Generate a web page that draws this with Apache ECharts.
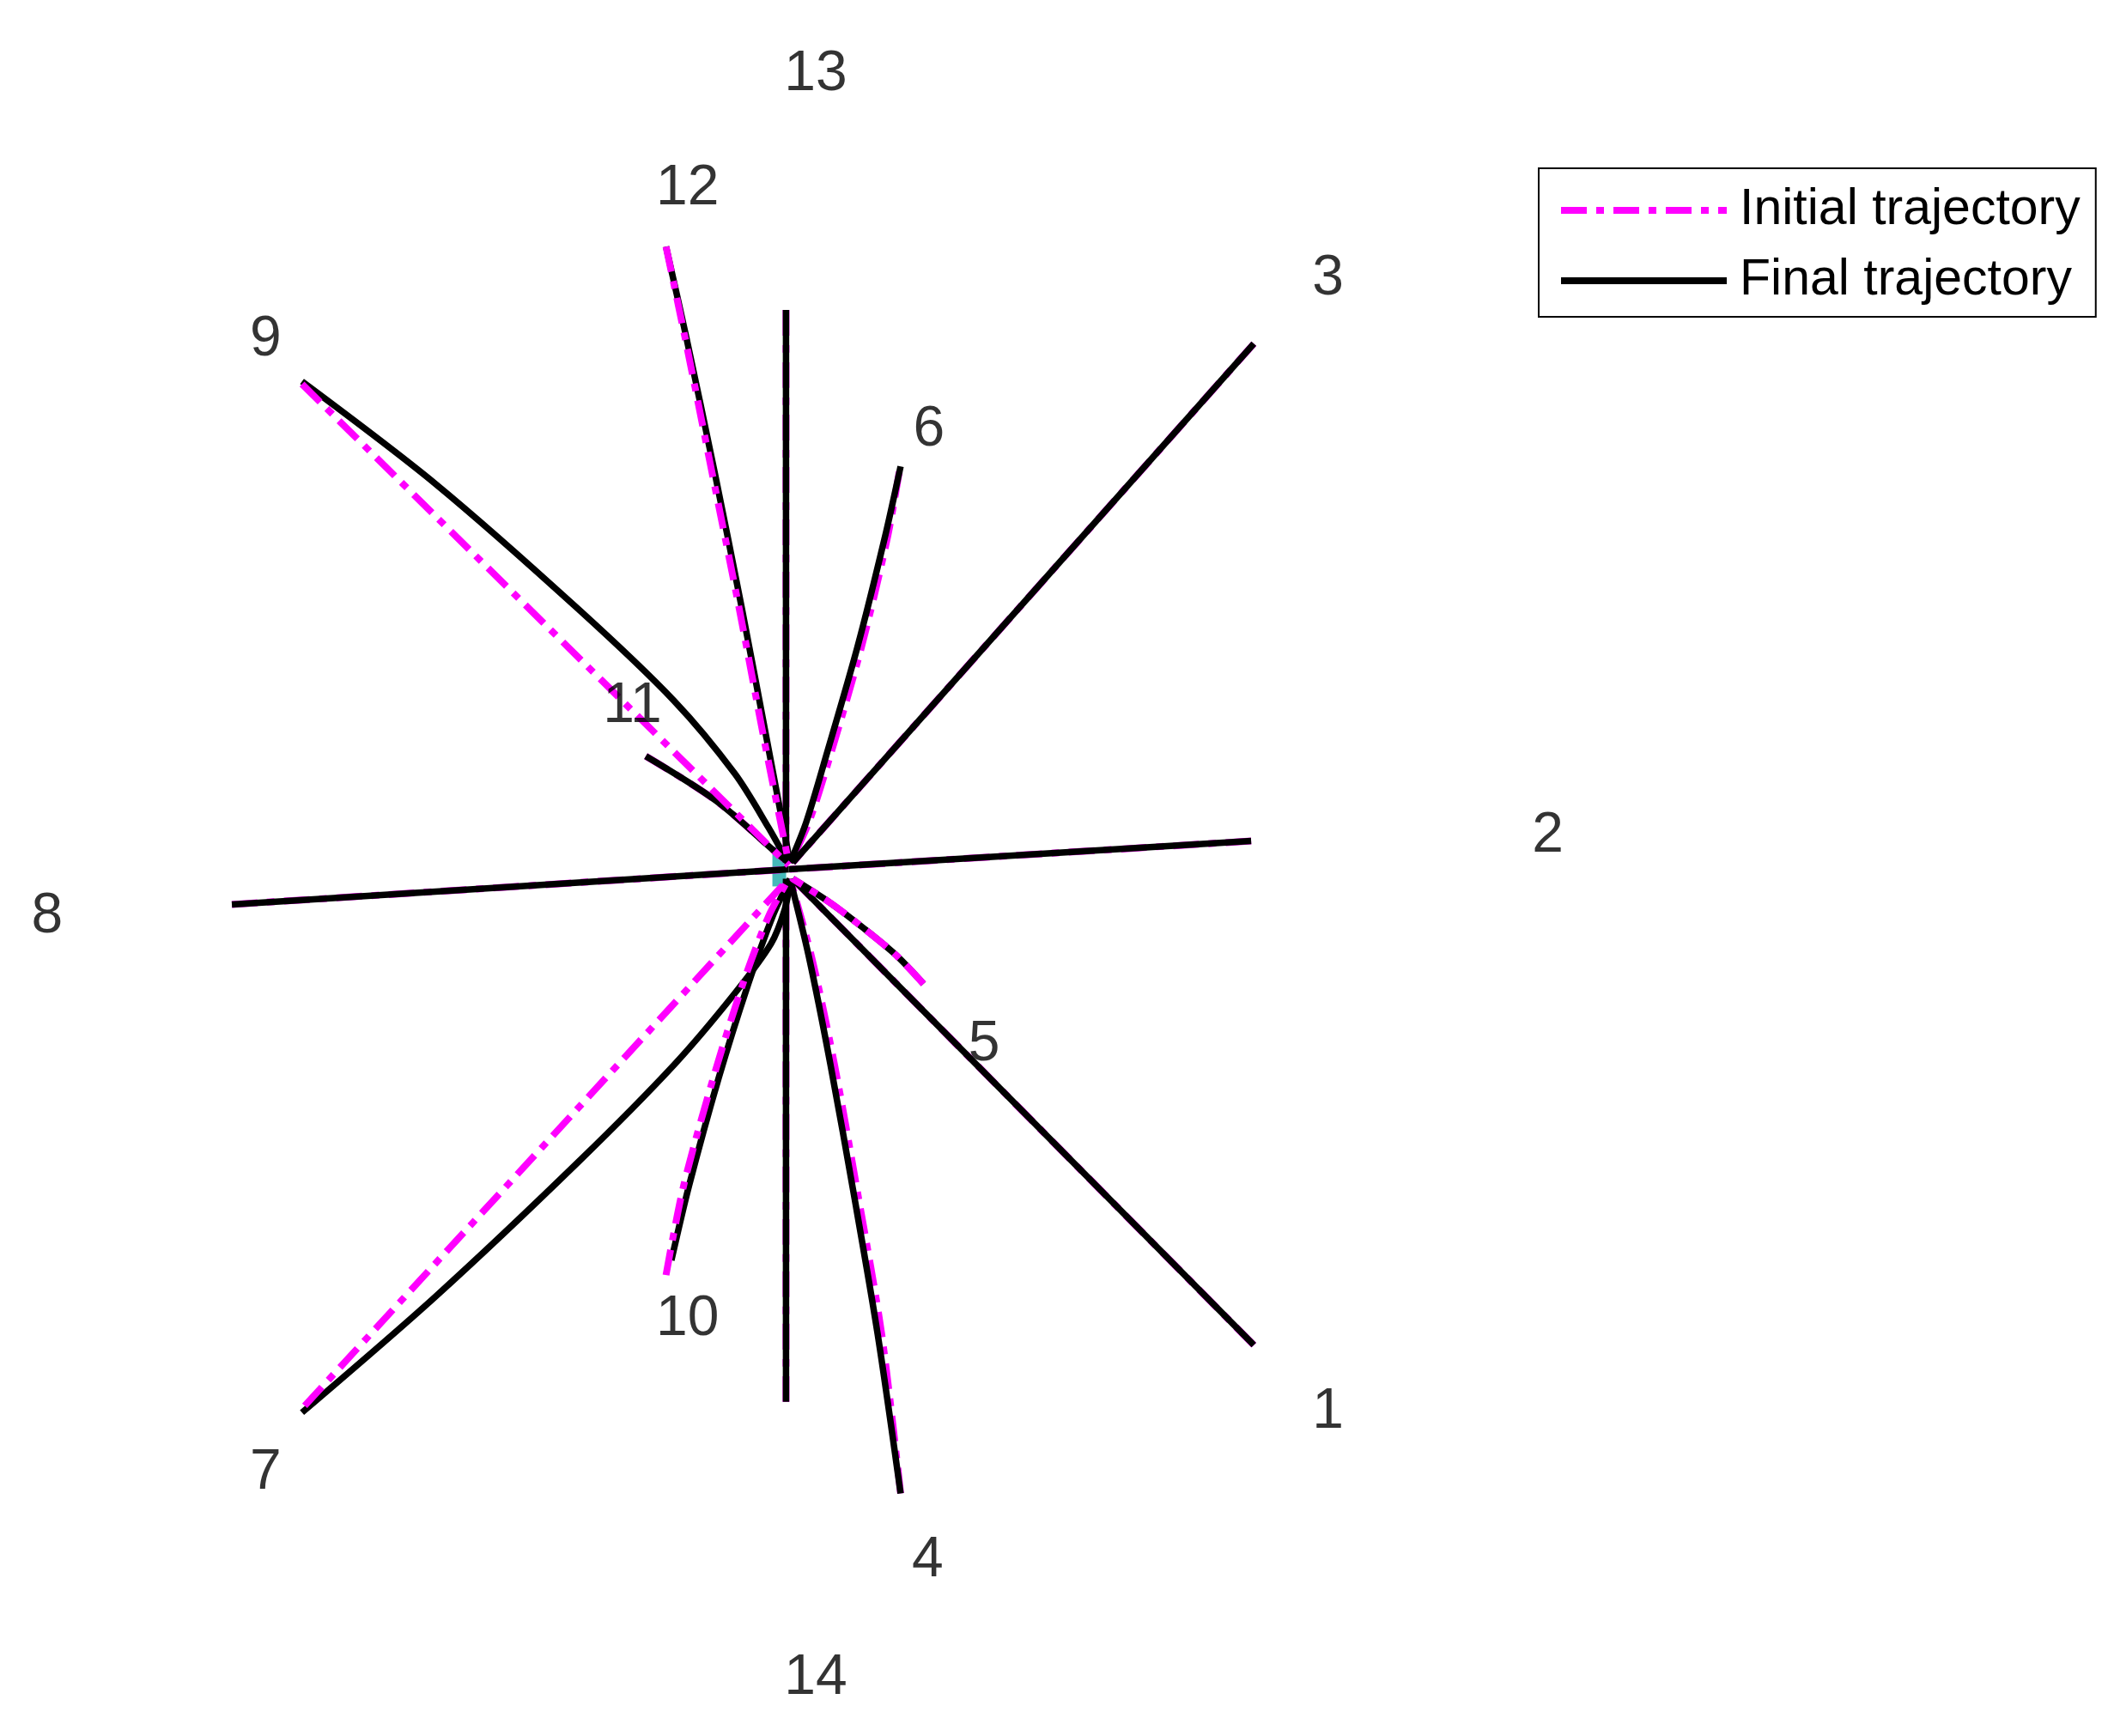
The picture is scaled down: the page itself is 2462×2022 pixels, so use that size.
<!DOCTYPE html>
<html>
  <head>
    <meta charset="utf-8" />
    <script src="https://cdn.jsdelivr.net/npm/echarts/dist/echarts.min.js"></script>
    <style>
      html, body { margin: 0; padding: 0; background: #fff; }
    </style>
  </head>
  <body>
    <div id="traj-chart" style="width: 2462px; height: 2022px;"></div>
    <script>
        // Agent ids and where their number labels sit
        var agentIds = ['1', '2', '3', '4', '5', '6', '7', '8', '9', '10', '11', '12', '13', '14'];
        var labelX = [400, 563, 400, 103, 145, 104, -388, -550, -388, -75, -116, -75, 20, 20];
        var labelY = [-403, 25, 438, -513, -130, 326, -448, -35, 393, -334, 121, 505, 590, -600];

        // Initial (planned) trajectories, one point list per agent
        var initialPaths = [
          [[345, -353], [3, -7]],
          [[343, 21], [0, 0]],
          [[345, 390], [3, 5]],
          [[83, -463], [69, -345], [52, -245], [34, -145], [17, -65], [1, -7]],
          [[100, -85], [80, -64], [56, -44], [31, -25], [3, -7]],
          [[82, 295], [73, 245], [54, 165], [31, 85], [15, 35], [1, 5]],
          [[-359, -398], [0, -7]],
          [[-413, -26], [0, 0]],
          [[-361, 360], [0, 3]],
          [[-91, -301], [-78, -235], [-56, -155], [-34, -85], [-15, -35], [0, -7]],
          [[-106, 84], [-54, 51], [-10, 13], [0, 5]],
          [[-91, 462], [-77, 395], [-57, 295], [-37, 195], [-18, 95], [0, 5]],
          [[-2, 415], [-2, 5]],
          [[-2, -395], [-2, -7]]
        ];

        // Final trajectories
        var finalPaths = [
          [[345, -353], [3, -7]],
          [[343, 21], [0, 0]],
          [[345, 390], [3, 5]],
          [[83, -463], [66, -345], [49, -245], [31, -145], [15, -65], [1, -7]],
          [[100, -85], [80, -64], [56, -44], [31, -25], [3, -7]],
          [[83, 299], [71, 245], [51, 165], [28, 85], [13, 35], [1, 5]],
          [[-361, -403], [-262, -317], [-156, -217], [-85, -145], [-40, -92], [-13, -55], [-3, -30], [1, -10]],
          [[-413, -26], [0, 0]],
          [[-361, 362], [-262, 286], [-156, 193], [-85, 125], [-40, 71], [-15, 31], [0, 4]],
          [[-87, -290], [-74, -235], [-52, -155], [-30, -85], [-12, -35], [1, -7]],
          [[-106, 84], [-54, 51], [-10, 13], [0, 5]],
          [[-91, 462], [-76, 395], [-55, 295], [-35, 195], [-16, 95], [1, 5]],
          [[-2, 415], [-2, 5]],
          [[-2, -395], [-2, -7]]
        ];

        // Target marker
        var targetPoint = [[-7, 2]];

        // agents whose dashed path shows over the solid one
        var dashOnTop = ['5', '7', '9', '10', '12'];

        var chart = echarts.init(document.getElementById('traj-chart'));

        function pathSeries(name, pts, color, lineType, width) {
            return {
                name: name,
                type: 'line',
                data: pts,
                symbol: 'none',
                showSymbol: false,
                smooth: 0.3,
                silent: true,
                z: 3,
                lineStyle: { color: color, width: width, type: lineType, cap: 'butt' },
                itemStyle: { color: color }
            };
        }

        var dashPattern = [30, 11, 9, 11];
        var series = [];

        series.push({
            type: 'scatter',
            data: targetPoint,
            symbol: 'rect',
            symbolSize: [16, 46],
            itemStyle: { color: '#17a8a8' },
            z: 1,
            silent: true
        });

        agentIds.forEach(function (id, i) {
            if (dashOnTop.indexOf(id) < 0) {
                series.push(pathSeries('Initial trajectory', initialPaths[i], '#ff00ff', dashPattern, 8));
            }
        });
        agentIds.forEach(function (id, i) {
            series.push(pathSeries('Final trajectory', finalPaths[i], '#000000', 'solid', 7.5));
        });
        agentIds.forEach(function (id, i) {
            if (dashOnTop.indexOf(id) >= 0) {
                series.push(pathSeries('Initial trajectory', initialPaths[i], '#ff00ff', dashPattern, 8));
            }
        });

        // agent numbers
        series.push({
            type: 'scatter',
            data: agentIds.map(function (id, i) { return [labelX[i], labelY[i], id]; }),
            symbolSize: 1,
            itemStyle: { color: 'rgba(0,0,0,0)' },
            silent: true,
            z: 4,
            label: {
                show: true,
                position: 'inside',
                formatter: function (p) { return p.data[2]; },
                fontFamily: 'Liberation Sans',
                fontSize: 66,
                color: '#000'
            }
        });

        var option = {
            animation: false,
            backgroundColor: '#ffffff',
            grid: { left: 0, right: 0, top: 0, bottom: 0 },
            xAxis: { type: 'value', min: -585, max: 983, show: false },
            yAxis: { type: 'value', min: -643, max: 645, show: false },
            legend: {
                data: ['Initial trajectory', 'Final trajectory'],
                orient: 'vertical',
                left: 1792,
                top: 196,
                padding: [14, 18, 7, 22],
                itemGap: 12,
                itemWidth: 193,
                itemHeight: 20,
                borderColor: '#000',
                borderWidth: 2,
                backgroundColor: '#fff',
                selectedMode: false,
                itemStyle: { opacity: 0 },
                lineStyle: { width: 8 },
                textStyle: {
                    fontFamily: 'Liberation Sans',
                    fontSize: 59,
                    color: '#000',
                    lineHeight: 70,
                    padding: [0, 0, 0, 10]
                }
            },
            series: series
        };

        chart.setOption(option);
    </script>
  </body>
</html>
